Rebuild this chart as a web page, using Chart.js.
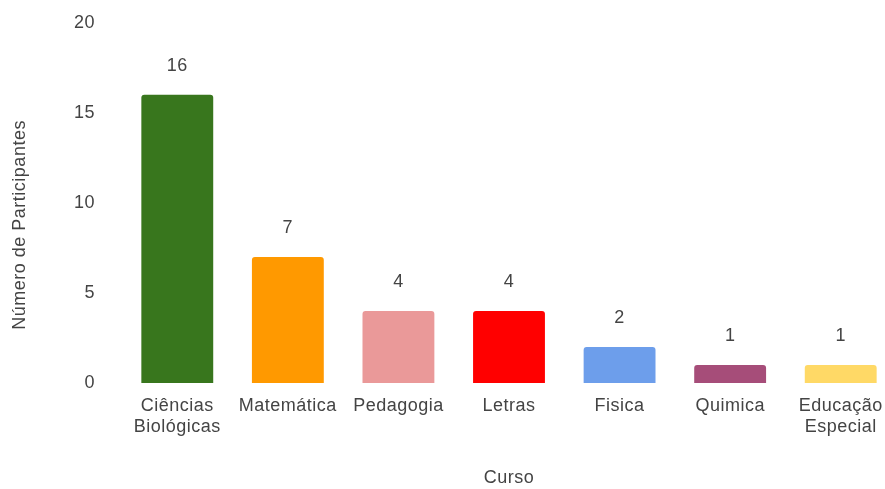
<!DOCTYPE html>
<html lang="pt">
<head>
<meta charset="UTF-8">
<title>Número de Participantes por Curso</title>
<style>
  html, body { margin: 0; padding: 0; background: #fff; overflow: hidden; }
  #wrap { width: 896px; height: 489px; overflow: hidden; }
  #grafico { display: block; margin-top: -7px; }
</style>
</head>
<body>
<div id="wrap"><canvas id="grafico" width="896" height="496"></canvas></div>
<script src="https://cdn.jsdelivr.net/npm/chart.js"></script>
<script>
// dados
const cursos = [['Ciências', 'Biológicas'], 'Matemática', 'Pedagogia', 'Letras', 'Fisica', 'Quimica', ['Educação', 'Especial']];
const participantes = [16, 7, 4, 4, 2, 1, 1];
const cores = ['#38761d', '#ff9900', '#ea9999', '#ff0000', '#6d9eeb', '#a64d79', '#ffd966'];
const yTicks = [0, 5, 10, 15, 20];
const tituloY = 'Número de Participantes';

const fonte = '"Liberation Sans", Arial, sans-serif';

// letras um pouco mais espaçadas, como no original
const espacamento = {
  id: 'espacamento',
  beforeLayout(chart) { chart.ctx.letterSpacing = '0.5px'; },
  beforeDraw(chart) { chart.ctx.letterSpacing = '0.5px'; }
};

// título do eixo y, um pouco abaixo do centro como no original
const tituloEixoY = {
  id: 'tituloEixoY',
  afterDraw(chart) {
    const ctx = chart.ctx;
    const area = chart.chartArea;
    ctx.save();
    ctx.translate(20, (area.top + area.bottom) / 2 + 22);
    ctx.rotate(-Math.PI / 2);
    ctx.font = '18px ' + fonte;
    ctx.fillStyle = '#444';
    ctx.textAlign = 'center';
    ctx.textBaseline = 'middle';
    ctx.fillText(tituloY, 0, 0);
    ctx.restore();
  }
};

// rótulo com o valor em cima de cada barra
const rotulos = {
  id: 'rotulos',
  afterDatasetsDraw(chart) {
    const ctx = chart.ctx;
    ctx.save();
    ctx.font = '18px ' + fonte;
    ctx.fillStyle = '#444';
    ctx.textAlign = 'center';
    ctx.textBaseline = 'middle';
    chart.getDatasetMeta(0).data.forEach(function (bar, i) {
      ctx.fillText(participantes[i], bar.x, bar.y - 29);
    });
    ctx.restore();
  }
};

const grafico = new Chart(document.getElementById('grafico'), {
  type: 'bar',
  data: {
    labels: cursos,
    datasets: [{
      data: participantes,
      backgroundColor: cores,
      borderRadius: 3,
      borderSkipped: 'bottom',
      categoryPercentage: 1,
      barPercentage: 0.65
    }]
  },
  options: {
    responsive: false,
    animation: false,
    layout: { padding: 0 },
    plugins: { legend: { display: false }, tooltip: { enabled: false } },
    scales: {
      x: {
        grid: { display: false },
        border: { display: false },
        ticks: {
          color: '#444',
          font: { family: fonte, size: 18 },
          padding: 4,
          maxRotation: 0,
          autoSkip: false
        },
        title: {
          display: true,
          text: 'Curso',
          color: '#444',
          font: { family: fonte, size: 18 },
          padding: { top: 30, bottom: 0 }
        },
        afterFit(scale) { scale.height = 106; }
      },
      y: {
        min: 0,
        max: 20,
        grid: { display: false },
        border: { display: false },
        afterBuildTicks(scale) { scale.ticks = yTicks.map(v => ({ value: v })); },
        ticks: {
          color: '#444',
          font: { family: fonte, size: 18 },
          padding: 19
        },
        title: { display: false },
        afterFit(scale) { scale.width = 122; }
      }
    }
  },
  plugins: [espacamento, rotulos, tituloEixoY]
});
</script>
</body>
</html>
